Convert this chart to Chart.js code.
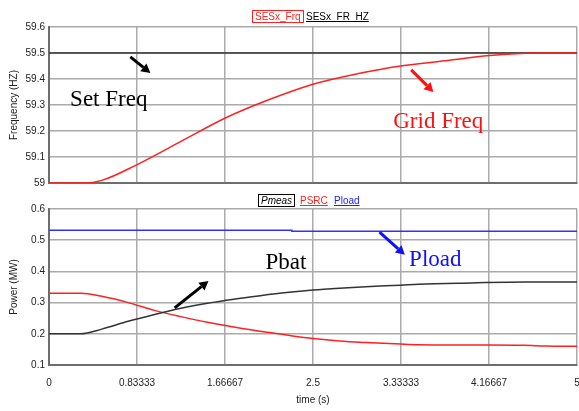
<!DOCTYPE html>
<html>
<head>
<meta charset="utf-8">
<script src="https://cdn.jsdelivr.net/npm/chart.js@4.4.1/dist/chart.umd.min.js"></script>
<style>
  html, body { margin:0; padding:0; background:#fff; }
  body { width:579px; height:411px; position:relative; overflow:hidden; font-family:"Liberation Sans", Arial, sans-serif; }
  .cv { position:absolute; left:0; }
  #c1 { top:0; }
  #c2 { top:190px; }
  .lg { position:absolute; font-size:10px; line-height:11px; white-space:nowrap; }
</style>
</head>
<body>
<div class="cv" id="w1" style="top:0;width:579px;height:195px;"><canvas id="c1"></canvas></div>
<div class="cv" id="w2" style="top:190px;width:579px;height:221px;"><canvas id="c2"></canvas></div>

<div class="lg" style="left:252px;top:10px;color:#ff2020;border:1px solid #ff2020;padding:0 2px;">SESx_Frq</div>
<div class="lg" style="left:306px;top:11px;color:#000;text-decoration:underline;">SESx_FR_HZ</div>
<div class="lg" style="left:258px;top:194px;color:#000;border:1px solid #000;padding:0 2px;font-style:italic;">Pmeas</div>
<div class="lg" style="left:300px;top:195px;color:#ff2020;text-decoration:underline;">PSRC</div>
<div class="lg" style="left:334px;top:195px;color:#2020ff;text-decoration:underline;">Pload</div>

<script>
// ---------- data ----------
const xTickValues = [0, 0.833333, 1.666667, 2.5, 3.333333, 4.166667, 5];
const xTickLabels = ["0", "0.83333", "1.66667", "2.5", "3.33333", "4.16667", "5"];
const freqTickValues = [59, 59.1, 59.2, 59.3, 59.4, 59.5, 59.6];
const freqTickLabels = ["59", "59.1", "59.2", "59.3", "59.4", "59.5", "59.6"];
const powerTickValues = [0.1, 0.2, 0.3, 0.4, 0.5, 0.6];
const powerTickLabels = ["0.1", "0.2", "0.3", "0.4", "0.5", "0.6"];

const setFreqTime = [0, 5];
const setFreq = [59.5, 59.5];          // SESx_FR_HZ
const gridFreqTime = [0, 0.33, 0.5, 0.83, 1.25, 1.67, 2.08, 2.5, 2.92, 3.33, 3.75, 4.17, 4.6, 5.0];
const gridFreq = [59.0, 59.0, 59.01, 59.07, 59.16, 59.25, 59.32, 59.38, 59.42, 59.45, 59.47, 59.49, 59.5, 59.5]; // SESx_Frq

const powerTime = [0, 0.3, 0.5, 0.75, 1.0, 1.25, 1.5, 1.75, 2.0, 2.25, 2.5, 2.75, 3.0, 3.33, 3.5, 4.0, 4.5, 4.7, 5.0];
const pmeas = [0.2, 0.2, 0.215, 0.24, 0.262, 0.282, 0.298, 0.311, 0.322, 0.332, 0.34, 0.346, 0.351, 0.356, 0.359, 0.363, 0.366, 0.366, 0.366];
const psrc  = [0.33, 0.33, 0.32, 0.30, 0.275, 0.255, 0.237, 0.222, 0.208, 0.196, 0.185, 0.177, 0.172, 0.167, 0.165, 0.164, 0.163, 0.161, 0.16];
const ploadTime = [0, 2.3, 2.3, 5];
const pload = [0.532, 0.532, 0.529, 0.529];

// annotations in data units: [text, t, value, colour]
const topNotes = [["Set Freq", 0.2, 59.32, "#000"], ["Grid Freq", 3.26, 59.235, "#ff1010"]];
const topArrows = [[0.77, 59.485, 0.96, 59.423, "#000"], [3.43, 59.435, 3.64, 59.35, "#ff1010"]];
const botNotes = [["Pbat", 2.05, 0.427, "#000"], ["Pload", 3.41, 0.437, "#1010ff"]];
const botArrows = [[1.19, 0.283, 1.51, 0.369, "#000"], [3.13, 0.526, 3.37, 0.453, "#1010ff"]];

// ---------- helpers ----------
const pts = (xs, ys) => xs.map((x, i) => ({x: x, y: ys[i]}));
Chart.defaults.font.family = '"Liberation Sans", Arial, sans-serif';
Chart.defaults.font.size = 10;
Chart.defaults.color = '#333';

const GRID = '#aaaaaa';
const AXIS = '#6e6e6e';

function notesPlugin(notes, arrows) {
  return {
    id: 'notes',
    afterDatasetsDraw(chart) {
      const ctx = chart.ctx, xs = chart.scales.x, ys = chart.scales.y;
      ctx.save();
      ctx.font = '23px "Liberation Serif", "Times New Roman", serif';
      ctx.textBaseline = 'middle';
      ctx.textAlign = 'left';
      notes.forEach(n => {
        ctx.fillStyle = n[3];
        ctx.fillText(n[0], xs.getPixelForValue(n[1]), ys.getPixelForValue(n[2]));
      });
      arrows.forEach(a => {
        const x1 = xs.getPixelForValue(a[0]), y1 = ys.getPixelForValue(a[1]);
        const x2 = xs.getPixelForValue(a[2]), y2 = ys.getPixelForValue(a[3]);
        const ang = Math.atan2(y2 - y1, x2 - x1);
        const hl = 9, hw = 5;
        const bx = x2 - hl * Math.cos(ang), by = y2 - hl * Math.sin(ang);
        ctx.strokeStyle = a[4]; ctx.fillStyle = a[4];
        ctx.lineWidth = 3; ctx.lineCap = 'butt';
        ctx.beginPath(); ctx.moveTo(x1, y1); ctx.lineTo(bx, by); ctx.stroke();
        ctx.beginPath();
        ctx.moveTo(x2, y2);
        ctx.lineTo(bx + hw * Math.sin(ang), by - hw * Math.cos(ang));
        ctx.lineTo(bx - hw * Math.sin(ang), by + hw * Math.cos(ang));
        ctx.closePath(); ctx.fill();
      });
      ctx.restore();
    }
  };
}

function xScale(showLabels, h) {
  return {
    type: 'linear', min: 0, max: 5,
    afterBuildTicks: s => { s.ticks = xTickValues.map(v => ({value: v})); },
    ticks: { display: showLabels, autoSkip: false, maxRotation: 0, padding: 12,
             callback: (v, i) => xTickLabels[i], font: {size: 10}, color: '#222' },
    grid: { color: GRID, lineWidth: 1.5, drawTicks: false },
    border: { display: true, color: AXIS, width: 2 },
    title: { display: showLabels, text: 'time (s)', font: {size: 10}, color: '#222', padding: {top: 0, bottom: 5} },
    afterFit: s => { s.height = h; s.paddingLeft = 0; s.paddingRight = 0; }
  };
}

function yScale(min, max, vals, labels, title) {
  return {
    type: 'linear', min: min, max: max,
    afterBuildTicks: s => { s.ticks = vals.map(v => ({value: v})); },
    ticks: { padding: 4, autoSkip: false, callback: (v, i) => labels[i], font: {size: 10}, color: '#222' },
    grid: { color: GRID, lineWidth: 1.5, drawTicks: false },
    border: { display: true, color: AXIS, width: 2 },
    title: { display: true, text: title, font: {size: 10}, color: '#222', padding: {top: 8, bottom: 4} },
    afterFit: s => { s.width = 49; s.paddingTop = 0; s.paddingBottom = 0; }
  };
}

const lineDs = (label, data, color, order) => ({
  label: label, data: data, borderColor: color, backgroundColor: color,
  borderWidth: 1.5, pointRadius: 0, fill: false, tension: 0.4,
  cubicInterpolationMode: 'monotone', order: order
});

const common = {
  responsive: true, maintainAspectRatio: false, animation: false,
  plugins: { legend: { display: false }, tooltip: { enabled: false } }
};

new Chart(document.getElementById('c1'), {
  type: 'line',
  data: { datasets: [
    lineDs('SESx_FR_HZ', pts(setFreqTime, setFreq), '#333333', 1),
    lineDs('SESx_Frq', pts(gridFreqTime, gridFreq), '#ff2020', 0)
  ]},
  options: Object.assign({}, common, {
    layout: { padding: { top: 27, right: 2, left: 0, bottom: 0 } },
    scales: {
      x: xScale(false, 12),
      y: yScale(59, 59.6, freqTickValues, freqTickLabels, 'Frequency (HZ)')
    }
  }),
  plugins: [notesPlugin(topNotes, topArrows)]
});

new Chart(document.getElementById('c2'), {
  type: 'line',
  data: { datasets: [
    lineDs('Pmeas', pts(powerTime, pmeas), '#333333', 0),
    lineDs('PSRC', pts(powerTime, psrc), '#ff2020', 1),
    lineDs('Pload', pts(ploadTime, pload), '#3030ff', 2)
  ]},
  options: Object.assign({}, common, {
    layout: { padding: { top: 19, right: 2, left: 0, bottom: 0 } },
    scales: {
      x: xScale(true, 46),
      y: yScale(0.1, 0.6, powerTickValues, powerTickLabels, 'Power (MW)')
    }
  }),
  plugins: [notesPlugin(botNotes, botArrows)]
});
</script>
</body>
</html>
